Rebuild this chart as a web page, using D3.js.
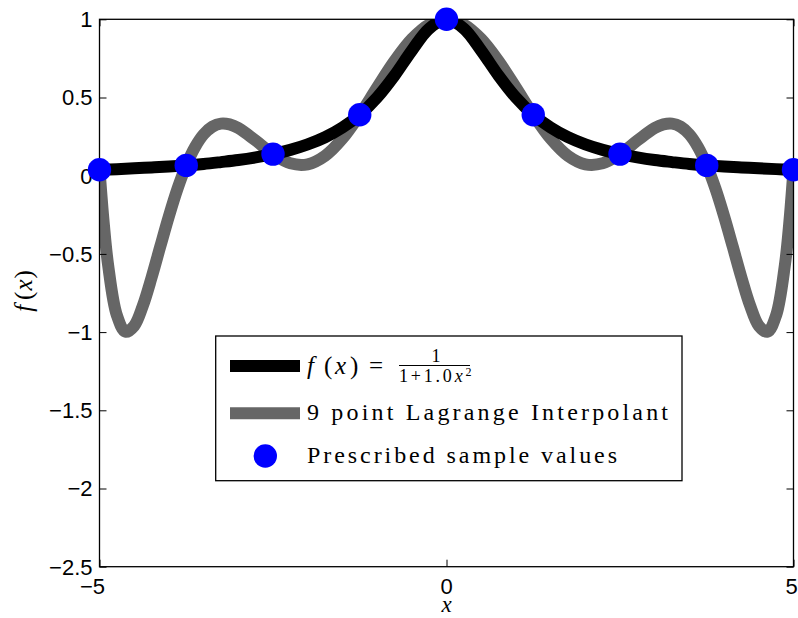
<!DOCTYPE html>
<html>
<head>
<meta charset="utf-8">
<script src="https://cdn.jsdelivr.net/npm/d3@7"></script>
<style>
  html, body { margin: 0; padding: 0; background: #fff; }
  svg { display: block; }
  .tick-label { font-family: "Liberation Sans", Arial, sans-serif; font-size: 22px; fill: #000; }
  .math { font-family: "Liberation Serif", "Times New Roman", serif; fill: #000; }
</style>
</head>
<body>
<svg id="chart" width="798" height="618"></svg>
<script>
// Runge function f(x) = 1/(1+x^2), sampled on [-5, 5]
const rungeX = [-5, -4.75, -4.5, -4.25, -4, -3.75, -3.5, -3.25, -3, -2.75, -2.5, -2.25, -2, -1.75, -1.5, -1.25, -1, -0.75, -0.5, -0.25, 0,
                0.25, 0.5, 0.75, 1, 1.25, 1.5, 1.75, 2, 2.25, 2.5, 2.75, 3, 3.25, 3.5, 3.75, 4, 4.25, 4.5, 4.75, 5];
const rungeY = [0.038, 0.042, 0.047, 0.053, 0.059, 0.066, 0.075, 0.087, 0.1, 0.117, 0.138, 0.165, 0.2, 0.246, 0.308, 0.390, 0.5, 0.64, 0.8, 0.941, 1,
                0.941, 0.8, 0.64, 0.5, 0.390, 0.308, 0.246, 0.2, 0.165, 0.138, 0.117, 0.1, 0.087, 0.075, 0.066, 0.059, 0.053, 0.047, 0.042, 0.038];

// 9 point Lagrange interpolant (degree 8)
const interpX = [-5, -4.9375, -4.875, -4.75, -4.625, -4.5, -4.375, -4.25, -4.125, -4, -3.875, -3.75, -3.625, -3.5, -3.375, -3.25, -3.125, -3,
                 -2.75, -2.5, -2.25, -2, -1.75, -1.5, -1.25, -1, -0.75, -0.5, -0.25, 0, 0.25, 0.5, 0.75, 1, 1.25, 1.5, 1.75, 2, 2.25, 2.5, 2.75,
                 3, 3.125, 3.25, 3.375, 3.5, 3.625, 3.75, 3.875, 4, 4.125, 4.25, 4.375, 4.5, 4.625, 4.75, 4.875, 4.9375, 5];
const interpY = [0.038, -0.311, -0.574, -0.892, -0.998, -0.960, -0.831, -0.652, -0.454, -0.259, -0.082, 0.066, 0.182, 0.264, 0.313, 0.333, 0.328, 0.305,
                 0.225, 0.138, 0.079, 0.073, 0.127, 0.237, 0.390, 0.564, 0.733, 0.874, 0.967, 1, 0.967, 0.874, 0.733, 0.564, 0.390, 0.237, 0.127, 0.073, 0.079, 0.138, 0.225,
                 0.305, 0.328, 0.333, 0.313, 0.264, 0.182, 0.066, -0.082, -0.259, -0.454, -0.652, -0.831, -0.960, -0.998, -0.892, -0.574, -0.311, 0.038];

// Prescribed sample values (nodes)
const sampleX = [-5, -3.75, -2.5, -1.25, 0, 1.25, 2.5, 3.75, 5];
const sampleY = [0.038, 0.066, 0.138, 0.390, 1, 0.390, 0.138, 0.066, 0.038];

// Axis ticks
const xTicks = [-5, 0, 5];
const yTicks = [-2.5, -2, -1.5, -1, -0.5, 0, 0.5, 1];

const svg = d3.select("#chart");
const W = 798, H = 618;
svg.append("rect").attr("width", W).attr("height", H).attr("fill", "#fff");

const plot = { left: 99.5, right: 793.5, top: 19.3, bottom: 566.7 };

const x = d3.scaleLinear().domain([-5, 5]).range([plot.left, plot.right]);
const y = d3.scaleLinear().domain([-2.5, 1]).range([plot.bottom, plot.top]);

svg.append("defs").append("clipPath").attr("id", "plotClip")
  .append("rect")
  .attr("x", plot.left).attr("y", plot.top)
  .attr("width", plot.right - plot.left).attr("height", plot.bottom - plot.top);

const line = d3.line()
  .x(d => x(d[0]))
  .y(d => y(d[1]))
  .curve(d3.curveCatmullRom.alpha(0.5));

const curves = svg.append("g").attr("clip-path", "url(#plotClip)");

curves.append("path")
  .datum(interpX.map((v, i) => [v, interpY[i]]))
  .attr("d", line)
  .attr("fill", "none")
  .attr("stroke", "#666666")
  .attr("stroke-width", 12)
  .attr("stroke-linejoin", "round");

curves.append("path")
  .datum(rungeX.map((v, i) => [v, rungeY[i]]))
  .attr("d", line)
  .attr("fill", "none")
  .attr("stroke", "#000")
  .attr("stroke-width", 12)
  .attr("stroke-linejoin", "round");

// Axes box with inward ticks on all four sides
const tickLen = 7;
const axes = svg.append("g");

axes.append("g")
  .attr("transform", `translate(0,${plot.bottom})`)
  .call(d3.axisBottom(x).tickValues(xTicks).tickSize(-tickLen).tickFormat(""))
  .call(g => g.select(".domain").remove());
axes.append("g")
  .attr("transform", `translate(0,${plot.top})`)
  .call(d3.axisTop(x).tickValues(xTicks).tickSize(-tickLen).tickFormat(""))
  .call(g => g.select(".domain").remove());
axes.append("g")
  .attr("transform", `translate(${plot.left},0)`)
  .call(d3.axisLeft(y).tickValues(yTicks).tickSize(-tickLen).tickFormat(""))
  .call(g => g.select(".domain").remove());
axes.append("g")
  .attr("transform", `translate(${plot.right},0)`)
  .call(d3.axisRight(y).tickValues(yTicks).tickSize(-tickLen).tickFormat(""))
  .call(g => g.select(".domain").remove());
axes.selectAll(".tick line").attr("stroke", "#000").attr("stroke-width", 1);

axes.append("rect")
  .attr("x", plot.left).attr("y", plot.top)
  .attr("width", plot.right - plot.left).attr("height", plot.bottom - plot.top)
  .attr("fill", "none").attr("stroke", "#000").attr("stroke-width", 1.3);

const fmt = v => (v < 0 ? "\u2212" : "") + String(Math.abs(v));

svg.append("g").selectAll("text").data(yTicks).join("text")
  .attr("class", "tick-label")
  .attr("x", plot.left - 7)
  .attr("y", d => y(d))
  .attr("dy", "0.36em")
  .attr("text-anchor", "end")
  .text(fmt);

svg.append("g").selectAll("text").data(xTicks).join("text")
  .attr("class", "tick-label")
  .attr("x", d => x(d) + (d < 0 ? -7 : (d > 0 ? -2 : 0)))
  .attr("y", 594)
  .attr("text-anchor", "middle")
  .text(fmt);

// Axis titles
svg.append("text").attr("class", "math")
  .attr("x", x(0)).attr("y", 612)
  .attr("text-anchor", "middle")
  .style("font-size", "23px").style("font-style", "italic")
  .text("x");

const yl = svg.append("text").attr("class", "math")
  .attr("transform", `translate(32,291) rotate(-90)`)
  .attr("text-anchor", "middle")
  .style("font-size", "25px");
yl.append("tspan").style("font-style", "italic").text("f");
yl.append("tspan").attr("dx", 5).text("(");
yl.append("tspan").attr("dx", 1).style("font-style", "italic").text("x");
yl.append("tspan").attr("dx", 1).text(")");

// Sample markers (not clipped)
svg.append("g").selectAll("circle")
  .data(sampleX.map((v, i) => [v, sampleY[i]]))
  .join("circle")
  .attr("cx", d => x(d[0]))
  .attr("cy", d => y(d[1]))
  .attr("r", 11.7)
  .attr("fill", "#0000ff");

// Legend
const lg = svg.append("g");
lg.append("rect")
  .attr("x", 215.7).attr("y", 336)
  .attr("width", 682 - 215.7).attr("height", 480.7 - 336)
  .attr("fill", "#fff").attr("stroke", "#000").attr("stroke-width", 1.3);

lg.append("line").attr("x1", 230).attr("x2", 300).attr("y1", 366).attr("y2", 366)
  .attr("stroke", "#000").attr("stroke-width", 12);
lg.append("line").attr("x1", 230).attr("x2", 300).attr("y1", 413.3).attr("y2", 413.3)
  .attr("stroke", "#666666").attr("stroke-width", 12);
lg.append("circle").attr("cx", 265.3).attr("cy", 456).attr("r", 11.7).attr("fill", "#0000ff");

// f(x) = 1 / (1 + 1.0 x^2)
const t1 = lg.append("text").attr("class", "math").attr("y", 374).style("font-size", "25px");
t1.append("tspan").attr("x", 307).style("font-style", "italic").text("f");
t1.append("tspan").attr("x", 324).text("(");
t1.append("tspan").attr("x", 335).style("font-style", "italic").text("x");
t1.append("tspan").attr("x", 350).text(")");
t1.append("tspan").attr("x", 369).text("=");

lg.append("text").attr("class", "math")
  .attr("x", 436).attr("y", 362).attr("text-anchor", "middle")
  .style("font-size", "18px").text("1");
lg.append("line").attr("x1", 399).attr("x2", 470).attr("y1", 365.5).attr("y2", 365.5)
  .attr("stroke", "#000").attr("stroke-width", 1);
const den = lg.append("text").attr("class", "math")
  .attr("x", 399).attr("y", 381.5)
  .style("font-size", "18px").style("letter-spacing", "2.8px");
den.append("tspan").text("1+1.0");
den.append("tspan").style("font-style", "italic").text("x");
den.append("tspan").attr("dy", -6).style("font-size", "12px").text("2");

lg.append("text").attr("class", "math")
  .attr("x", 307).attr("y", 420).style("font-size", "24px")
  .attr("textLength", 361).attr("lengthAdjust", "spacing")
  .text("9 point Lagrange Interpolant");
lg.append("text").attr("class", "math")
  .attr("x", 307).attr("y", 462.5).style("font-size", "24px")
  .attr("textLength", 310).attr("lengthAdjust", "spacing")
  .text("Prescribed sample values");
</script>
</body>
</html>
